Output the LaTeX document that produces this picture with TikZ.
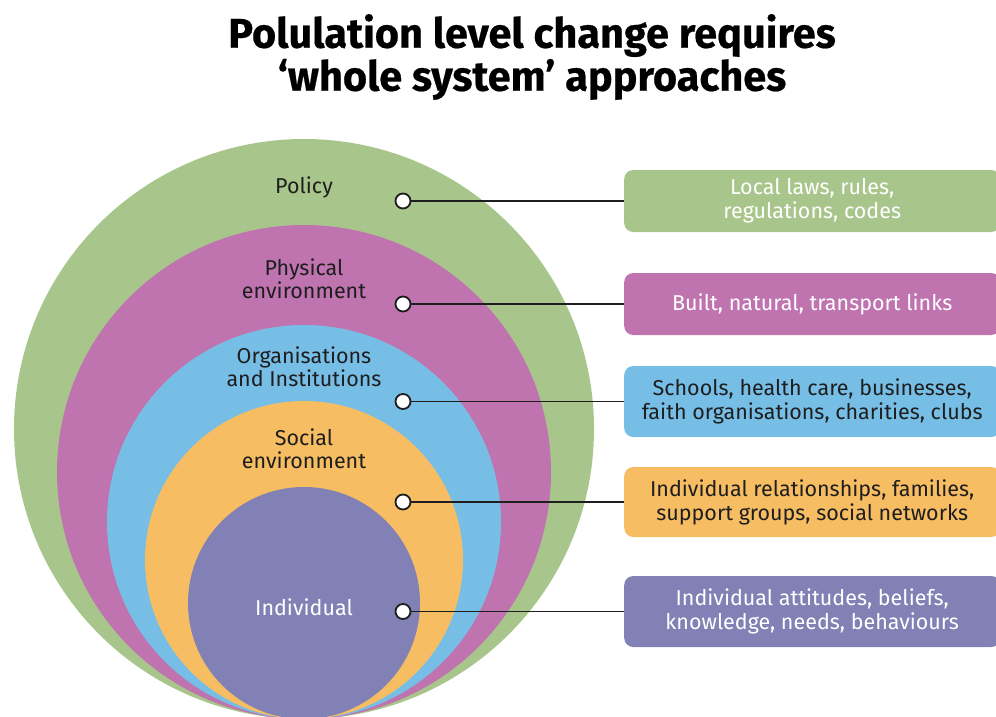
\documentclass[tikz,border=0pt]{standalone}
\usepackage{fontspec}
\setmainfont{Fira Sans}[BoldFeatures={FakeBold=0.5}]
\usetikzlibrary{positioning}
\definecolor{policygreen}{HTML}{A8C68B}
\definecolor{physmagenta}{HTML}{BF74B0}
\definecolor{orgblue}{HTML}{77BEE6}
\definecolor{socorange}{HTML}{F6BD63}
\definecolor{indpurple}{HTML}{8181B5}
\definecolor{inkdark}{HTML}{1E1E1E}
\tikzset{
  ringlabel/.style={align=center, text=inkdark, font=\fontsize{21.5}{23}\selectfont},
  infobox/.style={anchor=west, rounded corners=9pt, minimum width=376pt, inner sep=0pt,
    align=center, font=\fontsize{21.5}{24}\selectfont},
  hub/.style={circle, draw=inkdark, fill=white, line width=1.8pt, minimum size=15pt, inner sep=0pt},
  link/.style={draw=inkdark, line width=1.8pt}
}
\begin{document}
\begin{tikzpicture}[x=1pt,y=-1pt]
  \def \cx{304}
  \def \base{719}
  \def \hx{403}
  \def \bx{624}
  \useasboundingbox (0,0) rectangle (996,716);
  \clip (0,0) rectangle (996,716);
  % title
  \node[align=center, font=\fontsize{41.5}{43}\selectfont\bfseries] (title) at (532,57)
    {Polulation level change requires\\‘whole system’ approaches};
  % nested rings, all touching at the bottom
  \fill[policygreen] (\cx, \base-290) circle (290pt);
  \fill[physmagenta] (\cx, \base-247) circle (247pt);
  \fill[orgblue] (\cx, \base-197) circle (197pt);
  \fill[socorange] (\cx, \base-159) circle (159pt);
  \fill[indpurple] (\cx, \base-116) circle (116pt);
  % ring names
  \node[ringlabel] (policy) at (\cx, 187) {Policy};
  \node[ringlabel] (physical) at (\cx, 279) {Physical\\environment};
  \node[ringlabel] (organisations) at (\cx, 367) {Organisations\\and Institutions};
  \node[ringlabel] (social) at (\cx, 449) {Social\\environment};
  \node[ringlabel, text=white] (individual) at (\cx, 607) {Individual};
  % boxes on the right
  \node[infobox, fill=policygreen, text=white, minimum height=62pt] (policybox) at (\bx, 201)
    {Local laws, rules,\\regulations, codes};
  \node[infobox, fill=physmagenta, text=white, minimum height=62pt] (physicalbox) at (\bx, 304)
    {Built, natural, transport links};
  \node[infobox, fill=orgblue, text=inkdark, minimum height=71pt] (orgbox) at (\bx, 401.5)
    {Schools, health care, businesses,\\faith organisations, charities, clubs};
  \node[infobox, fill=socorange, text=inkdark, minimum height=70pt] (socialbox) at (\bx, 502)
    {Individual relationships, families,\\support groups, social networks};
  \node[infobox, fill=indpurple, text=white, minimum height=71pt] (indbox) at (\bx, 611.5)
    {Individual attitudes, beliefs,\\knowledge, needs, behaviours};
  % hubs and links
  \node[hub] (policyhub) at (\hx, 201) {};
  \node[hub] (physicalhub) at (\hx, 304) {};
  \node[hub] (orghub) at (\hx, 401.5) {};
  \node[hub] (socialhub) at (\hx, 502) {};
  \node[hub] (indhub) at (\hx, 611.5) {};
  \draw[link] (policyhub) -- (policybox.west);
  \draw[link] (physicalhub) -- (physicalbox.west);
  \draw[link] (orghub) -- (orgbox.west);
  \draw[link] (socialhub) -- (socialbox.west);
  \draw[link] (indhub) -- (indbox.west);
\end{tikzpicture}
\end{document}
